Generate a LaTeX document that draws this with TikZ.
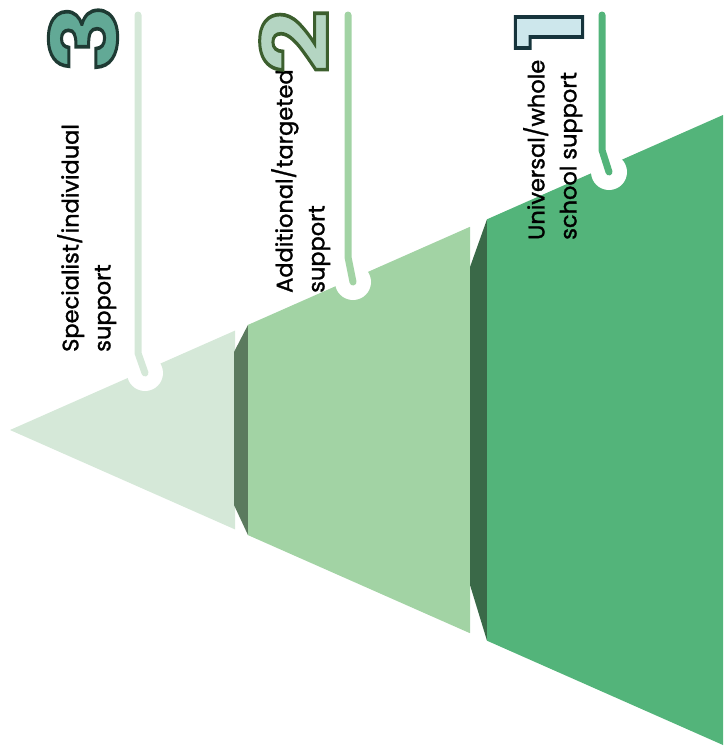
\documentclass[tikz,border=0pt]{standalone}
\usepackage{fontspec}
\setmainfont{Poppins}
\definecolor{lightg}{HTML}{D5E8D8}
\definecolor{medg}{HTML}{A2D3A4}
\definecolor{darkg}{HTML}{53B47A}
\definecolor{stripa}{HTML}{5B7A5E}
\definecolor{stripb}{HTML}{3A6948}
\definecolor{numthreefill}{HTML}{62A996}
\definecolor{numtwofill}{HTML}{B4D5C2}
\definecolor{numonefill}{HTML}{CDE7EC}
\newcommand{\outlined}[3]{{\special{pdf:literal direct 2 Tr #3 w #2 RG}#1\special{pdf:literal direct 0 Tr}}}
\newcommand{\heavytext}[1]{{\special{pdf:literal direct 2 Tr 0.3 w 0 0 0 RG}#1\special{pdf:literal direct 0 Tr}}}
\begin{document}
\begin{tikzpicture}[x=1pt,y=-1pt,
  label/.style={rotate=90,anchor=north west,inner sep=0pt,align=left,
    font=\fontsize{22.5}{32}\selectfont,text=black},
  dot/.style={circle,fill=white,minimum size=36pt,inner sep=0pt},
  connector/.style={line width=7pt,line cap=round,line join=round},
  numeral/.style={rotate=90,xscale=1.22,inner sep=0pt,font=\fontsize{92}{92}\selectfont\bfseries}]
\useasboundingbox (0,0) rectangle (723,747);
% pyramid sections
\fill[lightg] (10,430) -- (235,330.6) -- (235,529.4) -- cycle;
\fill[stripa] (234,352) -- (248,324.9) -- (248,535.1) -- (234,505) -- cycle;
\fill[medg] (248,324.9) -- (470,226.8) -- (470,633.2) -- (248,535.1) -- cycle;
\fill[stripb] (470,267) -- (487,219.3) -- (487,640.7) -- (470,585) -- cycle;
\fill[darkg] (487,219.3) -- (723,115) -- (723,745) -- (487,640.7) -- cycle;
% dots
\node[dot] (c3) at (145,373) {};
\node[dot] (c2) at (353,282) {};
\node[dot] (c1) at (609,172) {};
% connectors
\coordinate (t3) at (138,15);
\coordinate (b3) at (138,353);
\coordinate (t2) at (348,15);
\coordinate (b2) at (348,257);
\coordinate (t1) at (602,15);
\coordinate (b1) at (602,150);
\draw[connector,lightg] (t3) -- (b3) -- (c3.center);
\draw[connector,medg] (t2) -- (b2) -- (c2.center);
\draw[connector,darkg] (t1) -- (b1) -- (c1.center);
% labels
\node[label] (l3) at (57,352) {\heavytext{Specialist/individual}\\\heavytext{support}};
\node[label] (l2) at (271,293) {\heavytext{Additional/targeted}\\\heavytext{support}};
\node[label] (l1) at (523,240) {\heavytext{Universal/whole}\\\heavytext{school support}};
% numerals
\node[numeral,text=numthreefill] (n3) at (83,38) {\outlined{3}{0.118 0.227 0.2}{3}};
\node[numeral,text=numtwofill] (n2) at (294,42) {\outlined{2}{0.235 0.373 0.18}{3}};
\node[numeral,text=numonefill] (n1) at (549,30) {\outlined{1}{0.086 0.204 0.235}{3}};
\end{tikzpicture}
\end{document}
